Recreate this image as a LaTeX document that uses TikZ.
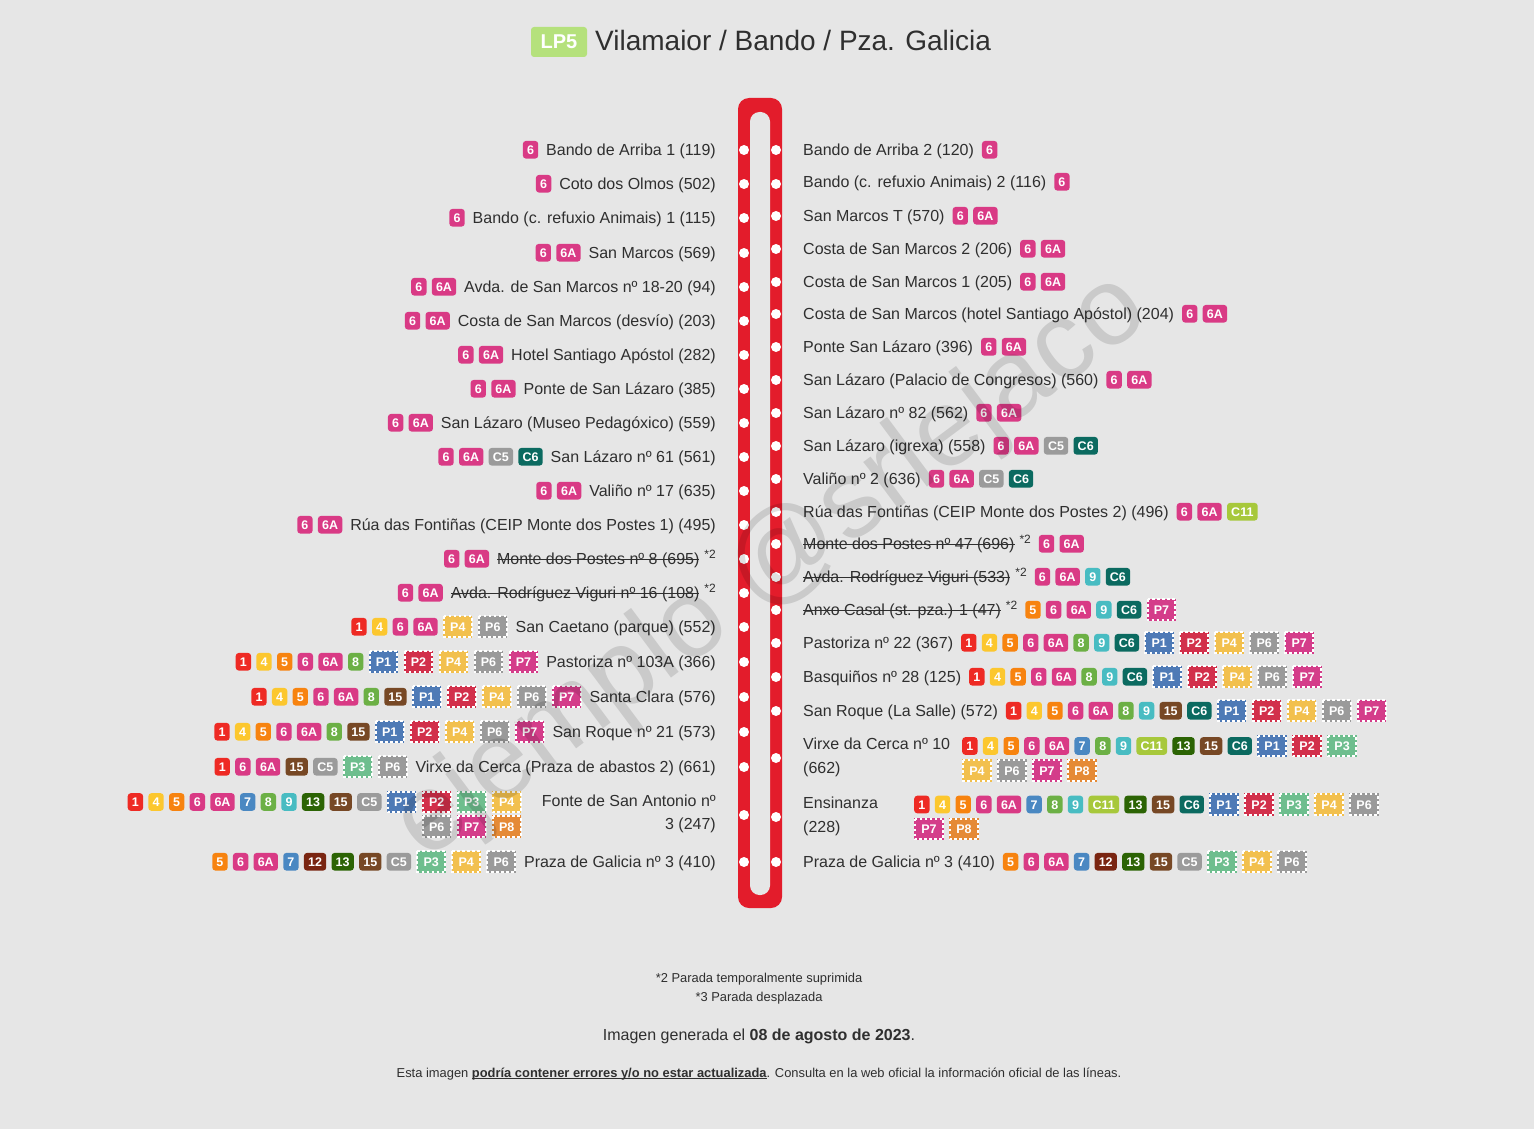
\documentclass[tikz,border=0pt]{standalone}
\usepackage{fontspec}
\setmainfont{Liberation Sans}
\definecolor{bgc}{HTML}{E6E6E6}
\definecolor{txt}{HTML}{2F2F2F}
\definecolor{track}{HTML}{E31C2B}
\definecolor{lpgreen}{HTML}{B5E17C}
\definecolor{bc1}{HTML}{EE2A24}
\definecolor{bc4}{HTML}{FCC72E}
\definecolor{bc5}{HTML}{F7830F}
\definecolor{bc6}{HTML}{D93A85}
\definecolor{bc6A}{HTML}{D93A85}
\definecolor{bc7}{HTML}{4A88C2}
\definecolor{bc8}{HTML}{6CB045}
\definecolor{bc9}{HTML}{48BCC2}
\definecolor{bc12}{HTML}{7A2511}
\definecolor{bc13}{HTML}{2C6404}
\definecolor{bc15}{HTML}{774825}
\definecolor{bcC5}{HTML}{9B9B9B}
\definecolor{bcC6}{HTML}{0B6A60}
\definecolor{bcC11}{HTML}{A7C83B}
\definecolor{bcP1}{HTML}{4E7AB6}
\definecolor{bcP2}{HTML}{D2304B}
\definecolor{bcP3}{HTML}{6EBE8E}
\definecolor{bcP4}{HTML}{F2C04E}
\definecolor{bcP6}{HTML}{9A9A9A}
\definecolor{bcP7}{HTML}{D43D8A}
\definecolor{bcP8}{HTML}{E58A36}
\tikzset{
  stn/.style={inner sep=0pt, font=\fontsize{16}{19}\selectfont, text=txt},
  badge/.style={inner xsep=4.2pt, inner ysep=0pt, minimum height=17.6pt, text height=9pt, text depth=0pt, rounded corners=3pt, text=white, font=\fontsize{12.5}{12.5}\selectfont\bfseries},
  pbadge/.style={inner xsep=7pt, inner ysep=0pt, minimum height=22.5pt, text height=9pt, text depth=0pt, text=white, font=\fontsize{12.5}{12.5}\selectfont\bfseries},
  pborder/.style={draw=white, line width=2pt, dash pattern=on 2.6pt off 2.4pt},
  stopdot/.style={circle, fill=white, inner sep=0pt, minimum size=10pt},
  foot/.style={inner sep=0pt, text=txt, font=\fontsize{12.9}{15}\selectfont},
}
\newsavebox\strkbox
\newcommand\strk[1]{\sbox\strkbox{#1}\rlap{\usebox\strkbox}\rule[4.6pt]{\wd\strkbox}{1pt}}
\newcommand\ulne[1]{\sbox\strkbox{#1}\rlap{\usebox\strkbox}\rule[-1.8pt]{\wd\strkbox}{0.9pt}}
\newcommand\nbadgebox[1]{\tikz[baseline={([yshift=-5.75pt]b.center)}]\node[badge, fill=bc#1] (b) {#1};}
\newcommand\pbadgebox[1]{\tikz[baseline={([yshift=-5.75pt]b.center)}]{\node[pbadge, fill=bc#1] (b) {#1};\draw[pborder] ([shift={(1pt,-1pt)}]b.north west) rectangle ([shift={(-1pt,1pt)}]b.south east);}}
\def\onebadge#1{\expandafter\onebadgeA#1\relax}
\def\onebadgeA#1#2\relax{\ifx P#1\expandafter\pbadgebox\else\expandafter\nbadgebox\fi{#1#2}}
\newcommand\brow[1]{\foreach \x in {#1}{\onebadge\x\hspace{5.3pt}}\hspace{-5.3pt}}
\newcommand\supii{\hspace{5pt}\raisebox{6pt}{\fontsize{12}{12}\selectfont *2}}
\newcommand\LS[4]{\node[stn, anchor=base east] (#1) at (716,#2+5.5) {\brow{#3}\hspace{8pt}#4};}
\newcommand\RS[4]{\node[stn, anchor=base west] (#1) at (803,#2+5.5) {#3\hspace{8pt}\brow{#4}};}
\begin{document}
\begin{tikzpicture}[x=1pt,y=-1pt]
\useasboundingbox (0,0) rectangle (1534,1129);
\fill[bgc] (0,0) rectangle (1534,1129);
% title
\node[fill=lpgreen, rounded corners=3pt, minimum width=56pt, minimum height=30pt, inner sep=0pt, text=white, font=\fontsize{20}{20}\selectfont\bfseries] (lp5) at (559,42) {LP5};
\node[anchor=base west, inner sep=0pt, text=txt, font=\fontsize{28}{32}\selectfont] (title) at (595,51) {Vilamaior / Bando / Pza. Galicia};
% track
\fill[track, rounded corners=11pt] (738,98) rectangle (782,908);
\fill[bgc, rounded corners=9.5pt] (750,112) rectangle (770,895);
\foreach \yy [count=\i] in {150,184,218,253,287,321,355,389,423,457,491,525,559,593,627,662,697,732,767,815,862}
  \node[stopdot] (dl\i) at (744,\yy) {};
\foreach \yy [count=\i] in {150,184,216,249,282,314,347,380,413,446,479,512,544,577,610,643,677,711,758,817,862}
  \node[stopdot] (dr\i) at (776,\yy) {};
% left stations
\LS{l1}{150}{6}{Bando de Arriba 1 (119)}
\LS{l2}{184}{6}{Coto dos Olmos (502)}
\LS{l3}{218}{6}{Bando (c. refuxio Animais) 1 (115)}
\LS{l4}{253}{6,6A}{San Marcos (569)}
\LS{l5}{287}{6,6A}{Avda. de San Marcos nº 18-20 (94)}
\LS{l6}{321}{6,6A}{Costa de San Marcos (desvío) (203)}
\LS{l7}{355}{6,6A}{Hotel Santiago Apóstol (282)}
\LS{l8}{389}{6,6A}{Ponte de San Lázaro (385)}
\LS{l9}{423}{6,6A}{San Lázaro (Museo Pedagóxico) (559)}
\LS{l10}{457}{6,6A,C5,C6}{San Lázaro nº 61 (561)}
\LS{l11}{491}{6,6A}{Valiño nº 17 (635)}
\LS{l12}{525}{6,6A}{Rúa das Fontiñas (CEIP Monte dos Postes 1) (495)}
\LS{l13}{559}{6,6A}{\strk{Monte dos Postes nº 8 (695)}\supii}
\LS{l14}{593}{6,6A}{\strk{Avda. Rodríguez Viguri nº 16 (108)}\supii}
\LS{l15}{627}{1,4,6,6A,P4,P6}{San Caetano (parque) (552)}
\LS{l16}{662}{1,4,5,6,6A,8,P1,P2,P4,P6,P7}{Pastoriza nº 103A (366)}
\LS{l17}{697}{1,4,5,6,6A,8,15,P1,P2,P4,P6,P7}{Santa Clara (576)}
\LS{l18}{732}{1,4,5,6,6A,8,15,P1,P2,P4,P6,P7}{San Roque nº 21 (573)}
\LS{l19}{767}{1,6,6A,15,C5,P3,P6}{Virxe da Cerca (Praza de abastos 2) (661)}
\node[stn, anchor=base east] (l20a) at (716,806.5) {Fonte de San Antonio nº};
\node[stn, anchor=base east] (l20b) at (716,829.5) {3 (247)};
\node[stn, anchor=base east] (l20c) at (527,807.75) {\brow{1,4,5,6,6A,7,8,9,13,15,C5,P1,P2,P3,P4}};
\node[stn, anchor=base east] (l20d) at (527,832.25) {\brow{P6,P7,P8}};
\LS{l21}{862}{5,6,6A,7,12,13,15,C5,P3,P4,P6}{Praza de Galicia nº 3 (410)}
% right stations
\RS{r1}{150}{Bando de Arriba 2 (120)}{6}
\RS{r2}{182}{Bando (c. refuxio Animais) 2 (116)}{6}
\RS{r3}{216}{San Marcos T (570)}{6,6A}
\RS{r4}{249}{Costa de San Marcos 2 (206)}{6,6A}
\RS{r5}{282}{Costa de San Marcos 1 (205)}{6,6A}
\RS{r6}{314}{Costa de San Marcos (hotel Santiago Apóstol) (204)}{6,6A}
\RS{r7}{347}{Ponte San Lázaro (396)}{6,6A}
\RS{r8}{380}{San Lázaro (Palacio de Congresos) (560)}{6,6A}
\RS{r9}{413}{San Lázaro nº 82 (562)}{6,6A}
\RS{r10}{446}{San Lázaro (igrexa) (558)}{6,6A,C5,C6}
\RS{r11}{479}{Valiño nº 2 (636)}{6,6A,C5,C6}
\RS{r12}{512}{Rúa das Fontiñas (CEIP Monte dos Postes 2) (496)}{6,6A,C11}
\RS{r13}{544}{\strk{Monte dos Postes nº 47 (696)}\supii}{6,6A}
\RS{r14}{577}{\strk{Avda. Rodríguez Viguri (533)}\supii}{6,6A,9,C6}
\RS{r15}{610}{\strk{Anxo Casal (st. pza.) 1 (47)}\supii}{5,6,6A,9,C6,P7}
\RS{r16}{643}{Pastoriza nº 22 (367)}{1,4,5,6,6A,8,9,C6,P1,P2,P4,P6,P7}
\RS{r17}{677}{Basquiños nº 28 (125)}{1,4,5,6,6A,8,9,C6,P1,P2,P4,P6,P7}
\RS{r18}{711}{San Roque (La Salle) (572)}{1,4,5,6,6A,8,9,15,C6,P1,P2,P4,P6,P7}
\node[stn, anchor=base west] (r19a) at (803,749.5) {Virxe da Cerca nº 10};
\node[stn, anchor=base west] (r19b) at (803,773.5) {(662)};
\node[stn, anchor=base west] (r19c) at (962,751.75) {\brow{1,4,5,6,6A,7,8,9,C11,13,15,C6,P1,P2,P3}};
\node[stn, anchor=base west] (r19d) at (962,776.25) {\brow{P4,P6,P7,P8}};
\node[stn, anchor=base west] (r20a) at (803,808.5) {Ensinanza};
\node[stn, anchor=base west] (r20b) at (803,832.5) {(228)};
\node[stn, anchor=base west] (r20c) at (914,810.25) {\brow{1,4,5,6,6A,7,8,9,C11,13,15,C6,P1,P2,P3,P4,P6}};
\node[stn, anchor=base west] (r20d) at (914,834.75) {\brow{P7,P8}};
\RS{r21}{862}{Praza de Galicia nº 3 (410)}{5,6,6A,7,12,13,15,C5,P3,P4,P6}
% footer
\node[foot, anchor=base] (n2) at (759,982) {*2 Parada temporalmente suprimida};
\node[foot, anchor=base] (n3) at (759,1001) {*3 Parada desplazada};
\node[foot, anchor=base, font=\fontsize{16}{19}\selectfont] (gen) at (759,1040) {Imagen generada el \textbf{08 de agosto de 2023}.};
\node[foot, anchor=base] (disc) at (759,1077) {Esta imagen \textbf{\ulne{podría contener errores y/o no estar actualizada}}. Consulta en la web oficial la información oficial de las líneas.};
% watermark
\node[text=black, text opacity=0.12, rotate=36.7, inner sep=0pt, font=\fontsize{110}{110}\selectfont] (wm) at (772,568) {ejemplo @srlejaco};
\end{tikzpicture}
\end{document}
